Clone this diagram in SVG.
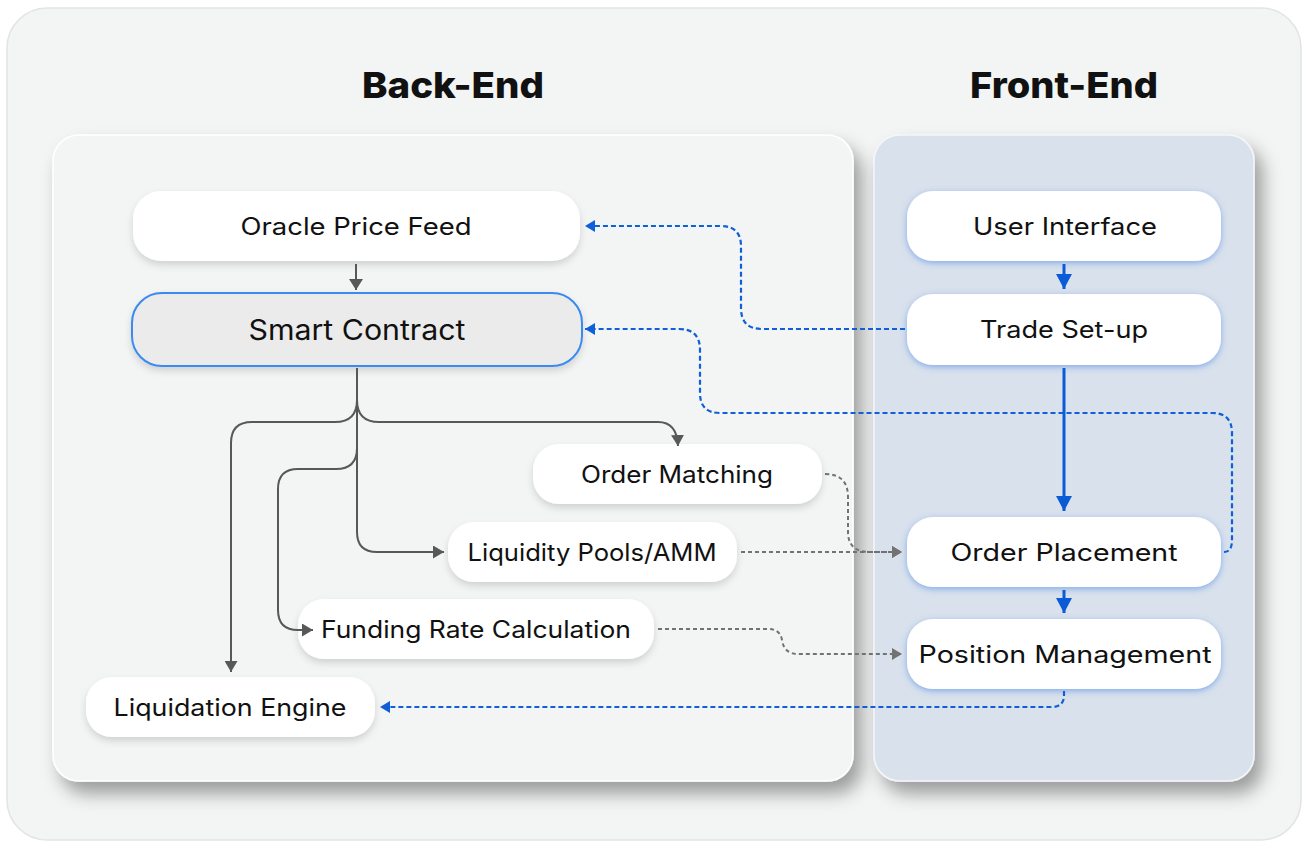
<svg xmlns="http://www.w3.org/2000/svg" width="1304" height="842" viewBox="0 0 1304 842">
  <defs>
    <style>
      .title { font-family: Inter, "Noto Sans", "Liberation Sans", sans-serif; font-weight: 800; font-size: 36px; fill: #111; text-anchor: middle; }
      .lbl { font-family: Inter, "Noto Sans", "Liberation Sans", sans-serif; font-weight: 400; font-size: 24px; fill: #111; text-anchor: middle; }
      .big { font-size: 28px; }
      .node { fill: #ffffff; }
      .be-node { filter: url(#nodeShadow); }
      .fe-node { filter: url(#blueGlow); }
      .solid-gray { fill: none; stroke: #585858; stroke-width: 2; }
      .dot-gray { fill: none; stroke: #727272; stroke-width: 2; stroke-dasharray: 4 3; }
      .dot-blue { fill: none; stroke: #0f5fd8; stroke-width: 2.2; stroke-dasharray: 5 3; }
      .solid-blue { fill: none; stroke: #0b5bd6; stroke-width: 3; }
    </style>
    <filter id="panelShadow" x="-10%" y="-10%" width="125%" height="130%">
      <feDropShadow dx="8" dy="12" stdDeviation="9" flood-color="#000" flood-opacity="0.36"/>
    </filter>
    <filter id="nodeShadow" x="-10%" y="-20%" width="120%" height="160%">
      <feDropShadow dx="0" dy="4" stdDeviation="3.5" flood-color="#000" flood-opacity="0.14"/>
    </filter>
    <filter id="blueGlow" x="-10%" y="-20%" width="120%" height="160%">
      <feDropShadow dx="0" dy="2" stdDeviation="3" flood-color="#3b7fe6" flood-opacity="0.55"/>
    </filter>
    <marker id="arrGray" markerUnits="userSpaceOnUse" markerWidth="12" markerHeight="13" refX="11" refY="6.5" orient="auto">
      <path d="M0,0 L11,6.5 L0,13 z" fill="#585858"/>
    </marker>
    <marker id="arrGrayBig" markerUnits="userSpaceOnUse" markerWidth="12" markerHeight="14" refX="11" refY="7" orient="auto">
      <path d="M0,0 L11,7 L0,14 z" fill="#585858"/>
    </marker>
    <marker id="arrGrayDot" markerUnits="userSpaceOnUse" markerWidth="12" markerHeight="12" refX="10" refY="6" orient="auto">
      <path d="M0,0 L10,6 L0,12 z" fill="#727272"/>
    </marker>
    <marker id="arrBlueDot" markerUnits="userSpaceOnUse" markerWidth="12" markerHeight="12" refX="10" refY="6" orient="auto">
      <path d="M0,0 L10,6 L0,12 z" fill="#0f5fd8"/>
    </marker>
    <marker id="arrBlue" markerUnits="userSpaceOnUse" markerWidth="16" markerHeight="16" refX="15" refY="8" orient="auto">
      <path d="M0,0 L15,8 L0,16 z" fill="#0b5bd6"/>
    </marker>
  </defs>

  <!-- page -->
  <rect x="0" y="0" width="1304" height="842" fill="#ffffff"/>
  <rect x="7" y="8" width="1294" height="832" rx="40" fill="#f3f4f4" stroke="#e2e3e3" stroke-width="1.5"/>

  <!-- section titles -->
  <text class="title" x="453" y="98" textLength="182" lengthAdjust="spacingAndGlyphs">Back-End</text>
  <text class="title" x="1064" y="98" textLength="188" lengthAdjust="spacingAndGlyphs">Front-End</text>

  <!-- panels -->
  <g id="backend-panel">
    <rect x="53" y="135" width="800" height="646" rx="26" fill="#f3f4f4" stroke="#ffffff" stroke-width="1.5" filter="url(#panelShadow)"/>
  </g>
  <g id="frontend-panel">
    <rect x="874" y="135" width="380" height="646" rx="26" fill="#d9e1ec" stroke="#f4f6fa" stroke-width="1.5" filter="url(#panelShadow)"/>
  </g>

  <!-- back-end nodes -->
  <g id="oracle-price-feed">
    <rect class="node be-node" x="133" y="191" width="447" height="70" rx="28"/>
    <text class="lbl" x="356" y="235" textLength="231" lengthAdjust="spacingAndGlyphs">Oracle Price Feed</text>
  </g>
  <g id="smart-contract">
    <rect x="132" y="293" width="450" height="73" rx="30" fill="#ebebeb" stroke="#3a8af0" stroke-width="2" filter="url(#nodeShadow)"/>
    <text class="lbl big" x="357" y="340" textLength="217" lengthAdjust="spacingAndGlyphs">Smart Contract</text>
  </g>
  <g id="order-matching">
    <rect class="node be-node" x="533" y="444" width="289" height="60" rx="26"/>
    <text class="lbl" x="677" y="483" textLength="192" lengthAdjust="spacingAndGlyphs">Order Matching</text>
  </g>
  <g id="liquidity-pools">
    <rect class="node be-node" x="448" y="522" width="289" height="60" rx="26"/>
    <text class="lbl" x="592" y="561" textLength="249" lengthAdjust="spacingAndGlyphs">Liquidity Pools/AMM</text>
  </g>
  <g id="funding-rate">
    <rect class="node be-node" x="298" y="599" width="356" height="60" rx="26"/>
    <text class="lbl" x="476" y="638" textLength="310" lengthAdjust="spacingAndGlyphs">Funding Rate Calculation</text>
  </g>
  <g id="liquidation-engine">
    <rect class="node be-node" x="86" y="677" width="289" height="60" rx="26"/>
    <text class="lbl" x="230" y="716" textLength="233" lengthAdjust="spacingAndGlyphs">Liquidation Engine</text>
  </g>

  <!-- front-end nodes -->
  <g id="user-interface">
    <rect class="node fe-node" x="907" y="191" width="314" height="70" rx="26"/>
    <text class="lbl" x="1065" y="235" textLength="184" lengthAdjust="spacingAndGlyphs">User Interface</text>
  </g>
  <g id="trade-setup">
    <rect class="node fe-node" x="907" y="294" width="314" height="71" rx="26"/>
    <text class="lbl" x="1064" y="338" textLength="168" lengthAdjust="spacingAndGlyphs">Trade Set-up</text>
  </g>
  <g id="order-placement">
    <rect class="node fe-node" x="907" y="517" width="314" height="70" rx="26"/>
    <text class="lbl" x="1064" y="561" textLength="227" lengthAdjust="spacingAndGlyphs">Order Placement</text>
  </g>
  <g id="position-management">
    <rect class="node fe-node" x="907" y="619" width="314" height="70" rx="26"/>
    <text class="lbl" x="1065" y="663" textLength="293" lengthAdjust="spacingAndGlyphs">Position Management</text>
  </g>

  <!-- connectors -->
  <g id="connectors">
    <!-- price feed into contract -->
    <path class="solid-gray" d="M356 264 V290" stroke-width="2.5" marker-end="url(#arrGrayBig)"/>
    <!-- contract fan-out -->
    <path class="solid-gray" d="M357 368 V532 Q357 552 377 552 H444" marker-end="url(#arrGray)"/>
    <path class="solid-gray" d="M357 400 Q357 422 335 422 H252 Q231 422 231 443 V672" marker-end="url(#arrGray)"/>
    <path class="solid-gray" d="M357 400 Q357 422 379 422 H658 Q677 422 678 446" marker-end="url(#arrGray)"/>
    <path class="solid-gray" d="M357 448 Q357 469 336 469 H298 Q278 469 278 489 V610 Q278 630 298 630 H313" marker-end="url(#arrGray)"/>

    <!-- back-end results to front-end -->
    <path class="dot-gray" d="M825 474 Q848 474 848 497 V532 Q848 552 870 552 H902" marker-end="url(#arrGrayDot)"/>
    <path class="dot-gray" d="M741 552 H902" marker-end="url(#arrGrayDot)"/>
    <path class="dot-gray" d="M658 629 H768 Q780 629 782 640 Q784 654 798 654 H902" marker-end="url(#arrGrayDot)"/>

    <!-- front-end flow -->
    <path class="solid-blue" d="M1064 264 V289" marker-end="url(#arrBlue)"/>
    <path class="solid-blue" d="M1064 368 V511" marker-end="url(#arrBlue)"/>
    <path class="solid-blue" d="M1064 590 V613" marker-end="url(#arrBlue)"/>

    <!-- front-end requests back to back-end -->
    <path class="dot-blue" d="M905 329 H762 Q741 329 741 308 V246 Q741 226 720 226 H585" marker-end="url(#arrBlueDot)"/>
    <path class="dot-blue" d="M1224 552 Q1232 552 1232 540 V433 Q1232 413 1212 413 H720 Q700 413 700 393 V350 Q700 329 679 329 H585" marker-end="url(#arrBlueDot)"/>
    <path class="dot-blue" d="M1064 691 V698 Q1062 707 1052 707 H380" marker-end="url(#arrBlueDot)"/>
  </g>
</svg>
